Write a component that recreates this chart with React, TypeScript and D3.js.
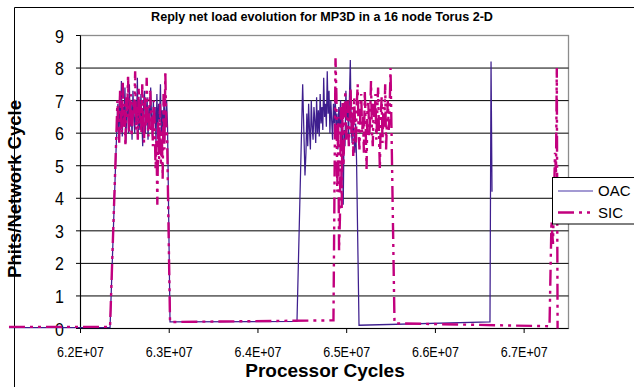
import * as d3 from 'd3';
import React from 'react';

const WIDTH = 634;
const HEIGHT = 387;

const TITLE = 'Reply net load evolution for MP3D in a 16 node Torus 2-D';
const X_LABEL = 'Processor Cycles';
const Y_LABEL = 'Phits/Network Cycle';

const xTicks = [6.2e7, 6.3e7, 6.4e7, 6.5e7, 6.6e7, 6.7e7];
const xTickLabels = ['6.2E+07', '6.3E+07', '6.4E+07', '6.5E+07', '6.6E+07', '6.7E+07'];
const yTicks = [0, 1, 2, 3, 4, 5, 6, 7, 8, 9];

const seriesNames = ['OAC', 'SIC'];

// cycles between two samples inside a busy burst
const SAMPLE_STEP = 10000;

// OAC: [cycle, phits] for the quiet parts, sample lists for the bursts
const oacLead = [[61.194e6, 0.03], [62.333e6, 0.03]];
const oacBurst1Start = 62.411e6;
const oacBurst1 = [6.3, 6.9, 5.8, 7.2, 6.1, 7.6, 5.9, 6.8, 6.4, 7.4, 5.7, 6.6, 7.1, 6.0, 7.5, 6.2, 6.9, 5.8, 7.3, 6.5,
  6.0, 7.0, 6.3, 7.7, 5.9, 6.7, 6.1, 7.2, 6.4, 5.6, 6.9, 7.3, 6.0, 6.6, 7.1, 5.8, 6.8, 6.2, 7.4, 6.5,
  5.9, 7.0, 6.3, 6.8, 5.7, 7.2, 6.1, 6.9, 6.4, 7.5, 6.0, 6.7, 5.8, 7.1, 6.3, 6.6, 7.0, 6.2];
const oacGap1 = [[63.009e6, 0.2], [64.44e6, 0.22], [64.504e6, 7.5], [64.53e6, 4.7]];
const oacBurst2Start = 64.541e6;
const oacBurst2 = [5.4, 6.6, 5.6, 6.9, 6.1, 5.5, 7.0, 6.2, 5.8, 6.8, 6.4, 5.7, 7.1, 6.0, 6.7, 5.9, 7.2, 6.3, 6.8, 6.1,
  7.7, 6.5, 6.9, 6.2, 7.9, 6.6, 7.3, 6.0, 7.0, 6.4, 5.8, 6.9, 6.3, 7.2, 5.9, 6.6, 5.5, 6.8, 6.2, 7.0,
  5.7, 6.5, 3.8, 6.1, 5.6, 7.3, 6.4, 6.8, 5.9, 7.1, 8.25, 6.2, 5.7, 6.6, 6.0, 5.4, 6.3, 5.2];
const oacTail = [[65.139e6, 0.1], [66.615e6, 0.2], [66.627e6, 8.2], [66.638e6, 4.2]];

// SIC
const sicLead = [[61.194e6, 0.05], [62.333e6, 0.05]];
const sicBurst1Start = 62.406e6;
const sicBurst1 = [6.1, 7.0, 6.4, 5.7, 7.3, 6.6, 6.0, 7.6, 6.2, 6.9, 5.6, 7.1, 6.5, 7.8, 6.0, 6.7, 7.2, 5.9, 6.4, 7.0,
  6.6, 7.9, 6.1, 6.8, 5.8, 7.4, 6.3, 6.9, 6.0, 7.5, 6.5, 5.7, 7.1, 6.2, 7.7, 6.4, 5.9, 6.8, 7.3, 6.1,
  6.7, 5.6, 7.0, 6.3, 4.9, 5.8, 3.8, 6.4, 5.2, 6.9, 5.0, 6.1, 4.6, 7.2, 5.5, 7.9, 6.3, 5.9];
const sicGap1 = [[63.009e6, 0.2], [64.851e6, 0.25]];
const sicBurst2Start = 64.874e6;
const sicBurst2 = [8.3, 7.2, 4.2, 6.5, 2.4, 3.4, 6.8, 3.7, 7.0, 5.0,
  6.2, 7.3, 5.8, 6.6, 7.0, 5.6, 6.4, 7.4, 6.0, 6.8,
  5.3, 7.1, 6.3, 5.7, 6.9, 7.5, 6.1, 5.5, 6.7, 7.2,
  6.0, 6.5, 5.4, 7.3, 6.2, 4.9, 6.8, 7.0, 5.9, 6.4,
  7.6, 6.1, 5.6, 6.9, 6.3, 7.2, 5.8, 6.6, 7.4, 6.0,
  4.9, 6.5, 7.1, 5.7, 6.8, 6.2, 7.5, 5.5, 6.4, 7.0,
  6.1, 6.7, 8.0, 6.3];
const sicTail = [[65.539e6, 0.16], [67.286e6, 0.07], [67.308e6, 3.3], [67.325e6, 2.6], [67.348e6, 5.4],
  [67.359e6, 4.8], [67.368e6, 8.0], [67.377e6, 0.0]];

const FONT = 'Liberation Sans, Arial, sans-serif';
const OAC_COLOR = '#3e1f8e';
const SIC_COLOR = '#c2007e';
const SIC_DASH = '16 5 3 5 3 5';

class App extends React.Component {
  constructor(props) {
    super(props);
    this.svgRef = React.createRef();
  }

  componentDidMount() {
    this.plot();
  }

  expand(start, values) {
    return values.map((v, i) => [start + i * SAMPLE_STEP, v]);
  }

  formatData() {
    const oac = [].concat(oacLead, this.expand(oacBurst1Start, oacBurst1), oacGap1,
      this.expand(oacBurst2Start, oacBurst2), oacTail);
    const sic = [].concat(sicLead, this.expand(sicBurst1Start, sicBurst1), sicGap1,
      this.expand(sicBurst2Start, sicBurst2), sicTail);
    return { oac, sic };
  }

  plot() {
    const data = this.formatData();
    const svg = d3.select(this.svgRef.current);
    svg.selectAll('*').remove();

    // plot area edges
    const left = 80.5;
    const right = 568.5;
    const top = 35.5;
    const bottom = 328.5;

    const x = d3.scaleLinear().domain([6.2e7, 6.75e7]).range([left, right]);
    const y = d3.scaleLinear().domain([0, 9]).range([bottom, top]);

    svg.append('rect').attr('width', WIDTH).attr('height', HEIGHT).attr('fill', 'white');

    // chart area border (only left and top are inside the picture)
    svg.append('path')
      .attr('d', `M14.5,${HEIGHT} V7.5 H${WIDTH}`)
      .attr('fill', 'none')
      .attr('stroke', 'black');

    // plot area
    svg.append('rect')
      .attr('x', left).attr('y', top)
      .attr('width', right - left).attr('height', bottom - top)
      .attr('fill', 'white')
      .attr('stroke', '#8c8c8c')
      .attr('stroke-width', 1.3);

    // gridlines
    svg.append('g')
      .selectAll('line')
      .data(yTicks.filter((t) => t > 0 && t < 9))
      .enter()
      .append('line')
      .attr('x1', left).attr('x2', right)
      .attr('y1', (d) => y(d)).attr('y2', (d) => y(d))
      .attr('stroke', 'black')
      .attr('stroke-width', 1);

    // axes
    svg.append('line')
      .attr('x1', left).attr('x2', left).attr('y1', top).attr('y2', bottom)
      .attr('stroke', 'black');
    svg.append('line')
      .attr('x1', left).attr('x2', right).attr('y1', bottom).attr('y2', bottom)
      .attr('stroke', 'black');

    const yAxis = svg.append('g');
    yAxis.selectAll('line')
      .data(yTicks)
      .enter()
      .append('line')
      .attr('x1', left - 4.5).attr('x2', left)
      .attr('y1', (d) => y(d)).attr('y2', (d) => y(d))
      .attr('stroke', 'black');
    yAxis.selectAll('text')
      .data(yTicks)
      .enter()
      .append('text')
      .attr('transform', (d) => `translate(64,${y(d) + 7})scale(1,1.15)`)
      .attr('text-anchor', 'end')
      .attr('font-family', FONT)
      .attr('font-size', 16)
      .attr('fill', 'black')
      .text((d) => d);

    const xAxis = svg.append('g');
    xAxis.selectAll('line')
      .data(xTicks)
      .enter()
      .append('line')
      .attr('x1', (d) => x(d)).attr('x2', (d) => x(d))
      .attr('y1', bottom).attr('y2', bottom + 4.5)
      .attr('stroke', 'black');
    xAxis.selectAll('text')
      .data(xTicks)
      .enter()
      .append('text')
      .attr('transform', (d) => `translate(${x(d)},356.5)scale(1,1.2)`)
      .attr('text-anchor', 'middle')
      .attr('font-family', FONT)
      .attr('font-size', 12.5)
      .attr('fill', 'black')
      .text((d, i) => xTickLabels[i]);

    // titles
    svg.append('text')
      .attr('x', 322).attr('y', 21)
      .attr('text-anchor', 'middle')
      .attr('font-family', FONT)
      .attr('font-weight', 'bold')
      .attr('font-size', 12.6)
      .text(TITLE);

    svg.append('text')
      .attr('x', 325).attr('y', 377)
      .attr('text-anchor', 'middle')
      .attr('font-family', FONT)
      .attr('font-weight', 'bold')
      .attr('font-size', 19)
      .text(X_LABEL);

    svg.append('text')
      .attr('transform', 'translate(21,189)rotate(-90)')
      .attr('text-anchor', 'middle')
      .attr('font-family', FONT)
      .attr('font-weight', 'bold')
      .attr('font-size', 18.5)
      .text(Y_LABEL);

    // series
    const line = d3.line()
      .x((d) => x(d[0]))
      .y((d) => y(d[1]));

    svg.append('path')
      .datum(data.oac)
      .attr('d', line)
      .attr('fill', 'none')
      .attr('stroke', OAC_COLOR)
      .attr('stroke-width', 1.25);

    svg.append('path')
      .datum(data.sic)
      .attr('d', line)
      .attr('fill', 'none')
      .attr('stroke', SIC_COLOR)
      .attr('stroke-width', 2.4)
      .attr('stroke-dasharray', SIC_DASH);

    // legend
    const legend = svg.append('g');
    legend.append('rect')
      .attr('x', 552.5).attr('y', 177.5)
      .attr('width', 100).attr('height', 46.5)
      .attr('fill', 'white')
      .attr('stroke', 'black');
    const rows = [
      { name: seriesNames[0], y: 191, color: '#8478c4', width: 1.5, dash: null },
      { name: seriesNames[1], y: 212.5, color: SIC_COLOR, width: 2.4, dash: SIC_DASH },
    ];
    rows.forEach((r) => {
      legend.append('line')
        .attr('x1', 558).attr('x2', 593)
        .attr('y1', r.y).attr('y2', r.y)
        .attr('stroke', r.color)
        .attr('stroke-width', r.width)
        .attr('stroke-dasharray', r.dash);
      legend.append('text')
        .attr('x', 598).attr('y', r.y + 5.3)
        .attr('font-family', FONT)
        .attr('font-size', 15)
        .attr('fill', 'black')
        .text(r.name);
    });
  }

  render() {
    return (
      <svg
        ref={this.svgRef}
        width={WIDTH}
        height={HEIGHT}
        style={{ position: 'absolute', left: 0, top: 0 }}
      />
    );
  }
}

export default App;
